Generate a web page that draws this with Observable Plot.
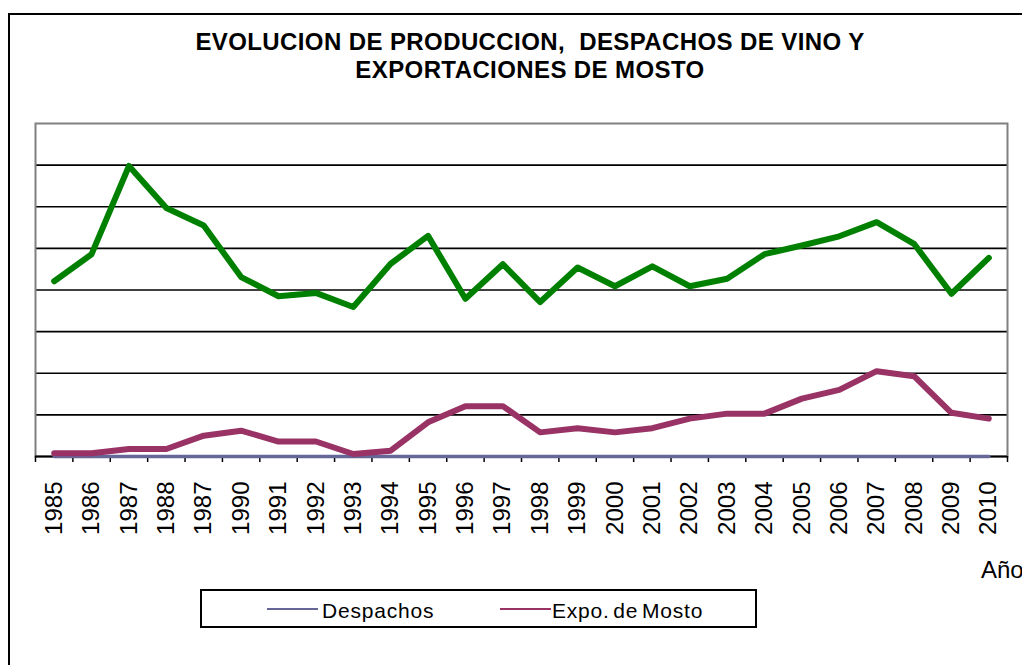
<!DOCTYPE html>
<html>
<head>
<meta charset="utf-8">
<script src="https://cdn.jsdelivr.net/npm/d3@7"></script>
<script src="https://cdn.jsdelivr.net/npm/@observablehq/plot@0.6"></script>
<style>
  html, body { margin: 0; padding: 0; background: #fff; }
  body { width: 1022px; height: 665px; overflow: hidden; position: relative; font-family: "Liberation Sans", Arial, sans-serif; }
  #frame { position: absolute; left: 8px; top: 13px; width: 1100px; height: 700px; border-left: 2px solid #000; border-top: 2px solid #000; }
  #chart { position: absolute; left: 0; top: 0; }
  .title { position: absolute; left: 0; width: 1060px; text-align: center; font-weight: bold; font-size: 24px; line-height: 24px; letter-spacing: 0.4px; white-space: pre; color: #000; }
  #anio { position: absolute; left: 981px; top: 558px; font-size: 24px; line-height: 24px; white-space: pre; }
  #legend { position: absolute; left: 200px; top: 589px; width: 557px; height: 39px; border: 2px solid #000; box-sizing: border-box; }
  .lg { position: absolute; top: 9px; font-size: 21px; line-height: 21px; letter-spacing: 0.8px; word-spacing: -3px; white-space: pre; }
  .sw { position: absolute; top: 17px; height: 2px; width: 51px; }
</style>
</head>
<body>
<div id="frame"></div>
<div id="chart"></div>
<div class="title" style="top:30px">EVOLUCION DE PRODUCCION,  DESPACHOS DE VINO Y</div>
<div class="title" style="top:58px">EXPORTACIONES DE MOSTO</div>
<div id="anio">Año</div>
<div id="legend">
  <div class="sw" style="left:65px;background:#666699"></div>
  <div class="lg" style="left:120px">Despachos</div>
  <div class="sw" style="left:298px;background:#993366"></div>
  <div class="lg" style="left:350px">Expo. de Mosto</div>
</div>
<script>
const years = ["1985","1986","1987","1988","1987","1990","1991","1992","1993","1994","1995","1996","1997","1998","1999","2000","2001","2002","2003","2004","2005","2006","2007","2008","2009","2010"];
const produccion = [4.21,4.86,6.98,5.97,5.55,4.31,3.85,3.93,3.59,4.63,5.30,3.79,4.62,3.71,4.54,4.09,4.57,4.09,4.27,4.86,5.07,5.29,5.63,5.11,3.91,4.77];
const despachos = [0,0,0,0,0,0,0,0,0,0,0,0,0,0,0,0,0,0,0,0,0,0,0,0,0,0];
const expoMosto = [0.08,0.08,0.18,0.18,0.50,0.62,0.36,0.36,0.06,0.14,0.82,1.21,1.21,0.58,0.68,0.58,0.68,0.91,1.03,1.03,1.39,1.60,2.05,1.93,1.05,0.91];
const gridValues = [1,2,3,4,5,6,7];
const colors = {produccion: "#008000", despachos: "#666699", expo: "#993366"};

const idx = years.map((_, i) => i);
const rows = years.map((y, i) => ({i, year: y, produccion: produccion[i], despachos: despachos[i], expo: expoMosto[i]}));
const boundaries = d3.range(years.length + 1).map(i => i - 0.5);

const chart = Plot.plot({
  width: 1022,
  height: 665,
  marginLeft: 35,
  marginRight: 15,
  marginTop: 123,
  marginBottom: 209,
  style: {fontFamily: "Liberation Sans, Arial, sans-serif", background: "transparent", color: "#000"},
  x: {type: "linear", domain: [-0.5, years.length - 0.5], axis: null},
  y: {domain: [0, 8], axis: null},
  marks: [
    Plot.ruleY(gridValues, {stroke: "#000", strokeWidth: 1.6}),
    Plot.frame({stroke: "#808080", strokeWidth: 2}),
    Plot.ruleY([0], {stroke: "#000", strokeWidth: 2}),
    Plot.axisX(boundaries, {label: null, tickSize: 6, tickFormat: () => "", stroke: "#000", strokeWidth: 1.5}),
    Plot.axisX(idx, {label: null, tickSize: 0, tickPadding: 25, tickRotate: -90, fontSize: 24, tickFormat: i => years[i], fill: "#000"}),
    Plot.line(rows, {x: "i", y: "produccion", stroke: colors.produccion, strokeWidth: 6, strokeLinejoin: "round", strokeLinecap: "round"}),
    Plot.line(rows, {x: "i", y: "despachos", stroke: colors.despachos, strokeWidth: 3.5}),
    Plot.line(rows, {x: "i", y: "expo", stroke: colors.expo, strokeWidth: 6, strokeLinejoin: "round", strokeLinecap: "round"})
  ]
});
document.getElementById("chart").appendChild(chart);
</script>
</body>
</html>
